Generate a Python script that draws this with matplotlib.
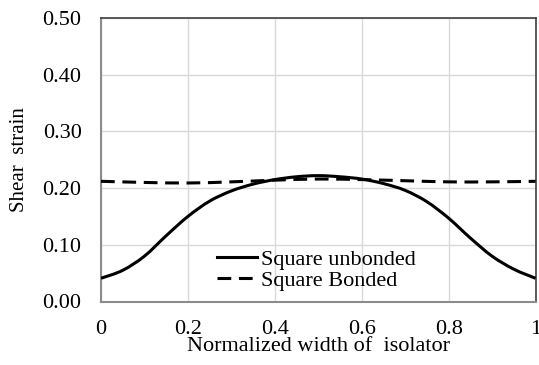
import matplotlib.pyplot as plt
from matplotlib.path import Path
from matplotlib.patches import PathPatch
from matplotlib.lines import Line2D

plt.rcParams['font.family'] = ['Liberation Serif', 'DejaVu Serif']

# normalized position across the isolator width
x_pos = [0.00, 0.05, 0.10, 0.15, 0.20, 0.25, 0.30, 0.35, 0.40, 0.45, 0.50,
         0.55, 0.60, 0.65, 0.70, 0.75, 0.80, 0.85, 0.90, 0.95, 1.00]
# shear strain, unbonded square isolator
unbonded = [0.041, 0.055, 0.080, 0.116, 0.150, 0.177, 0.195, 0.207, 0.215, 0.220, 0.222,
            0.220, 0.216, 0.208, 0.196, 0.176, 0.147, 0.112, 0.080, 0.057, 0.041]

x_bonded = [0.0, 0.1, 0.2, 0.3, 0.4, 0.5, 0.6, 0.7, 0.8, 0.9, 1.0]
bonded = [0.212, 0.210, 0.209, 0.211, 0.214, 0.216, 0.215, 0.213, 0.211, 0.211, 0.212]

x_ticks = [0, 0.2, 0.4, 0.6, 0.8, 1]
x_labels = ['0', '0.2', '0.4', '0.6', '0.8', '1']
y_ticks = [0.0, 0.1, 0.2, 0.3, 0.4, 0.5]
y_labels = ['0.00', '0.10', '0.20', '0.30', '0.40', '0.50']


def smooth_path(xs, ys):
    # spreadsheet-style smoothed line: cubic bezier segments through every point
    verts = [(xs[0], ys[0])]
    codes = [Path.MOVETO]
    n = len(xs)
    for i in range(n - 1):
        x0, y0 = (xs[i - 1], ys[i - 1]) if i > 0 else (xs[i], ys[i])
        x3, y3 = (xs[i + 2], ys[i + 2]) if i + 2 < n else (xs[i + 1], ys[i + 1])
        x1, y1 = xs[i], ys[i]
        x2, y2 = xs[i + 1], ys[i + 1]
        c1 = (x1 + (x2 - x0) / 6, y1 + (y2 - y0) / 6)
        c2 = (x2 - (x3 - x1) / 6, y2 - (y3 - y1) / 6)
        verts += [c1, c2, (x2, y2)]
        codes += [Path.CURVE4] * 3
    return Path(verts, codes)


fig = plt.figure(figsize=(5.39, 3.65), dpi=100)
ax = fig.add_axes([101 / 539, 1 - 301.5 / 365, 434.5 / 539, 283.5 / 365])

solid_style = dict(color='black', lw=2.2)
dash_style = dict(color='black', lw=2.2, dashes=(4.5, 2.5))

ax.add_patch(PathPatch(smooth_path(x_pos, unbonded), fill=False, edgecolor='black',
                       lw=2.2, capstyle='butt', zorder=3))
ax.add_patch(PathPatch(smooth_path(x_bonded, bonded), fill=False, edgecolor='black',
                       lw=2.2, linestyle=(0, (4.5, 2.5)), capstyle='butt', zorder=3))

ax.set_xlim(0, 1)
ax.set_ylim(0, 0.5)
ax.set_xticks(x_ticks)
ax.set_xticklabels(x_labels)
ax.set_yticks(y_ticks)
ax.set_yticklabels(y_labels)
ax.tick_params(axis='both', length=0, labelsize=16, colors='black')
ax.tick_params(axis='y', pad=14)
ax.tick_params(axis='x', pad=13)
ax.grid(True, color='#d9d9d9', lw=1)
ax.set_axisbelow(True)

for side in ['left', 'bottom']:
    ax.spines[side].set_color('#8c8c8c')
    ax.spines[side].set_linewidth(1.5)
for side in ['top', 'right']:
    ax.spines[side].set_color('#404040')
    ax.spines[side].set_linewidth(1.2)

ax.set_xlabel('Normalized width of  isolator', fontsize=16, labelpad=-1)
ax.set_ylabel('Shear  strain', fontsize=15, labelpad=10)

handles = [Line2D([], [], **solid_style), Line2D([], [], **dash_style)]
ax.legend(handles, ['Square unbonded', 'Square Bonded'], loc='center left',
          bbox_to_anchor=(0.267, 0.111), frameon=False, fontsize=16,
          handlelength=1.8, handletextpad=0.2, labelspacing=0.0, borderpad=0, borderaxespad=0)

fig.savefig('out.png', dpi=100)
